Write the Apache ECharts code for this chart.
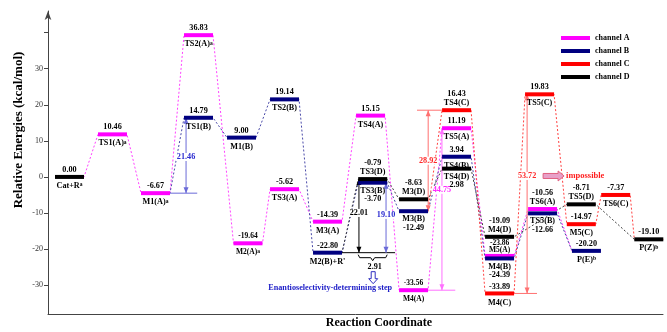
<!DOCTYPE html>
<html>
<head>
<meta charset="utf-8">
<script src="https://cdn.jsdelivr.net/npm/echarts@6/dist/echarts.min.js"></script>
<style>
  html, body { margin: 0; padding: 0; background: #fff; }
  #chart { width: 667px; height: 332px; }
</style>
</head>
<body>
<div id="chart"></div>
<script>
// every stationary point on the profile
const stateNames = ['Cat+R^a', 'TS1(A)^a', 'M1(A)^a', 'TS2(A)^a', 'TS1(B)', 'M1(B)', 'M2(A)^a',
  'TS2(B)', 'TS3(A)', 'M3(A)', "M2(B)+R'", 'TS4(A)', 'TS3(D)', 'TS3(B)', 'M3(D)', 'M3(B)', 'M4(A)',
  'TS4(C)', 'TS5(A)', 'TS4(B)', 'TS4(D)', 'M4(D)', 'M5(A)', 'M4(B)', 'M4(C)', 'TS5(C)', 'TS6(A)',
  'TS5(B)', 'TS5(D)', 'M5(C)', 'P(E)^b', 'TS6(C)', 'P(Z)^b'];
// printed relative energies, kcal/mol
const stateEnergy = [0.00, 10.46, -6.67, 36.83, 14.79, 9.00, -19.64,
  19.14, -5.62, -14.39, -22.80, 15.15, -0.79, -3.70, -8.63, -12.49, -33.56,
  16.43, 11.19, 3.94, 2.98, -19.09, -23.86, -24.39, -33.89, 19.83, -10.56,
  -12.66, -8.71, -14.97, -20.20, -7.37, -19.10];
// slot along the reaction coordinate
const stateX = [0, 1, 2, 3, 3, 4, 4.15,
  5, 5, 6, 6, 7, 7.05, 7.05, 8, 8, 8,
  9, 9, 9, 9, 10, 10, 10, 10, 10.93, 11,
  11, 11.9, 11.9, 12.02, 12.7, 13.47];
// height of the bar as drawn against the energy axis
const stateLevel = [0, 11.8, -4.5, 39.3, 16.4, 10.9, -18.4,
  21.5, -3.4, -12.4, -21.0, 17.0, -0.6, -1.6, -6.2, -9.5, -31.4,
  18.5, 13.5, 5.6, 2.3, -16.6, -21.9, -22.6, -32.3, 22.9, -8.9,
  -10.1, -7.6, -13.1, -20.5, -5.0, -17.3];
const stateChannel = ['D', 'A', 'A', 'A', 'B', 'B', 'A',
  'B', 'A', 'A', 'B', 'A', 'D', 'B', 'D', 'B', 'A',
  'C', 'A', 'B', 'D', 'D', 'A', 'B', 'C', 'C', 'A',
  'B', 'D', 'C', 'B', 'C', 'D'];

// pathways, as indices into the state list
const pathA = [0, 1, 2, 3, 6, 8, 9, 11, 16, 18, 22, 26, 30];
const pathB = [2, 4, 5, 7, 10, 13, 15, 19, 23, 27, 30];
const pathC = [15, 17, 24, 25, 29, 31, 32];
const pathD = [10, 12, 14, 20, 21, 28, 32];

// barrier arrows
const gapX = [2.71, 6.73, 7.36, 8.34, 8.66, 10.64];
const gapUpper = [4, 12, 13, 17, 18, 25];
const gapLower = [2, 10, 10, 15, 16, 24];
const gapText = ['21.46', '22.01', '19.10', '28.92', '44.75', '53.72'];

// label placement: s = value above / name below, u = both above, d = both below
const labelSide = ['s', 's', 's', 's', 's', 's', 's',
  's', 's', 's', 's', 's', 'u', 'd', 'u', 'd', 's',
  'u', 's', 's', 'd', 'u', 'u', 'd', 's', 's', 'u',
  'd', 'u', 's', 's', 's', 's'];
const smallLabels = [6, 16, 22];
const channelColor = { A: '#ff00ff', B: '#000080', C: '#ff0000', D: '#000000' };
const linkColor = { A: '#ff40ff', B: '#4848a8', C: '#ff4040', D: '#404040' };
const gapColor = ['#2a2ad0', '#000000', '#2a2ad0', '#ff2a2a', '#ff2aff', '#ff2a2a'];
const gapLine = ['#6a6ad8', '#000000', '#6a6ad8', '#ff7070', '#ff70ff', '#ff7070'];
// where the horizontal guide of each arrow ends (x), at which state's level
const guideState = [2, 10, null, 17, 16, 24];
const guideEnd = [2.97, 7.57, null, 8.08, 8.97, 10.87];
const gapLabelAt = [0.52, 0.46, 0.46, 0.5, 0.38, 0.41];

const serif = "'Liberation Serif', 'Times New Roman', serif";
const HALF = 14.5;

function richName(n) {
  return n.replace(/\^(\w)/, '{s|$1}');
}

function renderLevel(params, api) {
  const i = api.value(2);
  const p = api.coord([api.value(0), api.value(1)]);
  const small = smallLabels.includes(i);
  const fs = small ? 7.5 : 8.2;
  let vy, ny;
  if (labelSide[i] === 'u') {
    vy = p[1] - (small ? 13 : 16); ny = p[1] - (small ? 6 : 7);
  } else if (labelSide[i] === 'd') { ny = p[1] + 8; vy = p[1] + 16.5; }
  else { vy = p[1] - 7; ny = p[1] + 9; }
  return {
    type: 'group',
    children: [
      { type: 'line', shape: { x1: p[0] - HALF, y1: p[1], x2: p[0] + HALF, y2: p[1] },
        style: { stroke: channelColor[stateChannel[i]], lineWidth: 4 } },
      { type: 'text', x: p[0], y: vy,
        style: { text: stateEnergy[i].toFixed(2), fontFamily: serif, fontWeight: 'bold', fontSize: fs,
          fill: '#000', align: 'center', verticalAlign: 'middle' } },
      { type: 'text', x: p[0], y: ny,
        style: { text: richName(stateNames[i]), fontFamily: serif, fontWeight: 'bold', fontSize: fs,
          fill: '#000', align: 'center', verticalAlign: 'middle',
          rich: { s: { fontFamily: serif, fontWeight: 'bold', fontSize: 5.5, verticalAlign: 'top' } } } }
    ]
  };
}

function arrowHead(x, y, dir, color) {
  return { type: 'polygon', shape: { points: [[x, y], [x - 2.5, y - 6 * dir], [x + 2.5, y - 6 * dir]] },
    style: { fill: color } };
}

function renderGap(params, api) {
  const k = api.value(1);
  const x = api.value(0);
  const top = api.coord([x, stateLevel[gapUpper[k]]]);
  const bot = api.coord([x, stateLevel[gapLower[k]]]);
  const kids = [
    { type: 'line', shape: { x1: top[0], y1: top[1], x2: bot[0], y2: bot[1] },
      style: { stroke: gapLine[k], lineWidth: 1 } },
    arrowHead(top[0], top[1], -1, gapLine[k]),
    arrowHead(bot[0], bot[1], 1, gapLine[k])
  ];
  if (guideState[k] !== null) {
    const s = guideState[k];
    const a = api.coord([stateX[s], stateLevel[s]]);
    const b = api.coord([guideEnd[k], stateLevel[s]]);
    const from = b[0] > a[0] ? a[0] + HALF : a[0] - HALF;
    kids.push({ type: 'line', shape: { x1: from, y1: a[1], x2: b[0], y2: a[1] },
      style: { stroke: gapLine[k], lineWidth: 1 } });
  }
  kids.push({ type: 'text', x: top[0], y: top[1] + (bot[1] - top[1]) * gapLabelAt[k], z2: 10,
    style: { text: gapText[k], fontFamily: serif, fontWeight: 'bold', fontSize: 8.2, fill: gapColor[k],
      align: 'center', verticalAlign: 'middle', backgroundColor: '#fff', padding: [0, 1] } });
  return { type: 'group', children: kids };
}

function renderNotes(params, api) {
  const which = api.value(2);
  const p = api.coord([api.value(0), api.value(1)]);
  const x = p[0], y = p[1];
  if (which === 0) {
    // brace between the two barriers, the hollow arrow and the caption
    return { type: 'group', children: [
      { type: 'polyline', shape: { points: [[x - 14.5, y + 2], [x - 13, y + 5], [x - 2, y + 5], [x, y + 8],
          [x + 2, y + 5], [x + 13, y + 5], [x + 14.5, y + 2]] }, style: { stroke: '#000', lineWidth: 1, fill: null } },
      { type: 'text', x: x + 2, y: y + 14, style: { text: '2.91', fontFamily: serif, fontWeight: 'bold',
          fontSize: 8.2, fill: '#000', align: 'center', verticalAlign: 'middle' } },
      { type: 'polygon', shape: { points: [[x - 1.5, y + 19], [x + 2.5, y + 19], [x + 2.5, y + 26], [x + 5, y + 26],
          [x + 0.5, y + 31], [x - 4, y + 26], [x - 1.5, y + 26]] }, style: { stroke: '#3030c0', fill: '#fff', lineWidth: 1 } },
      { type: 'text', x: x - 42.5, y: y + 35, style: { text: 'Enantioselectivity-determining step', fontFamily: serif,
          fontWeight: 'bold', fontSize: 8.2, fill: '#2020c8', align: 'center', verticalAlign: 'middle' } }
    ] };
  }
  // "impossible" block arrow next to the 53.72 gap
  return { type: 'group', children: [
    { type: 'polygon', shape: { points: [[x + 16, y - 2.5], [x + 31, y - 2.5], [x + 31, y - 5], [x + 37, y],
        [x + 31, y + 5], [x + 31, y + 2.5], [x + 16, y + 2.5]] }, style: { fill: '#e8a0c8', stroke: '#e06080', lineWidth: 1 } },
    { type: 'text', x: x + 39, y: y, style: { text: 'impossible', fontFamily: serif, fontWeight: 'bold',
        fontSize: 8.5, fill: '#ff2020', align: 'left', verticalAlign: 'middle' } }
  ] };
}

function linkData(path) {
  const pts = [];
  path.forEach(function (i) {
    pts.push([stateX[i] - 0.337, stateLevel[i]]);
    pts.push([stateX[i] + 0.337, stateLevel[i]]);
  });
  return pts;
}

const paths = { A: pathA, B: pathB, C: pathC, D: pathD };
const series = [];
['A', 'B', 'C', 'D'].forEach(function (c) {
  series.push({
    name: c + ' link', type: 'line', data: linkData(paths[c]), symbol: 'none', silent: true, z: 1,
    lineStyle: { color: linkColor[c], width: 1, type: [2, 2] }
  });
});
['A', 'B', 'C', 'D'].forEach(function (c) {
  const rows = [];
  stateChannel.forEach(function (ch, i) { if (ch === c) rows.push([stateX[i], stateLevel[i], i]); });
  series.push({
    name: 'channel ' + c, type: 'custom', renderItem: renderLevel, data: rows, z: 4,
    itemStyle: { color: channelColor[c] }, silent: true
  });
});
series.push({
  name: 'gaps', type: 'custom', renderItem: renderGap, z: 3, silent: true,
  data: gapX.map(function (x, k) { return [x, k]; })
});
series.push({
  name: 'notes', type: 'custom', renderItem: renderNotes, z: 3, silent: true,
  data: [[7.05, stateLevel[10], 0], [gapX[5], 22.9 - (22.9 + 32.3) * 0.41, 1]]
});

const chart = echarts.init(document.getElementById('chart'));
chart.setOption({
  animation: false,
  grid: { left: 48, right: 4, top: 11, bottom: 18 },
  legend: {
    data: ['channel A', 'channel B', 'channel C', 'channel D'],
    orient: 'vertical', left: 556, top: 27, icon: 'rect', itemWidth: 29, itemHeight: 4, itemGap: 1,
    textStyle: { fontFamily: serif, fontWeight: 'bold', fontSize: 8, lineHeight: 12, color: '#000' }
  },
  xAxis: {
    type: 'value', min: -0.5, max: 13.8,
    axisLine: { show: true, onZero: false, lineStyle: { color: '#444' } },
    axisTick: { show: false }, axisLabel: { show: false }, splitLine: { show: false }
  },
  yAxis: {
    type: 'value', min: -38, max: 46,
    axisLine: { show: true, onZero: false, symbol: ['none', 'arrow'], symbolSize: [5, 9], lineStyle: { color: '#444' } },
    axisTick: { show: true, length: 4, customValues: [-30, -20, -10, 0, 10, 20, 30, 40], lineStyle: { color: '#444' } },
    axisLabel: { customValues: [-30, -20, -10, 0, 10, 20, 30], fontFamily: serif, fontSize: 8, color: '#333', margin: 5 },
    splitLine: { show: false }
  },
  graphic: [
    { type: 'text', x: 19, y: 130, rotation: Math.PI / 2,
      style: { text: 'Relative Energies (kcal/mol)', fontFamily: serif, fontWeight: 'bold', fontSize: 13,
        fill: '#000', align: 'center', verticalAlign: 'middle' } },
    { type: 'text', x: 379, y: 323,
      style: { text: 'Reaction Coordinate', fontFamily: serif, fontWeight: 'bold', fontSize: 12,
        fill: '#000', align: 'center', verticalAlign: 'middle' } }
  ],
  series: series
});
</script>
</body>
</html>
